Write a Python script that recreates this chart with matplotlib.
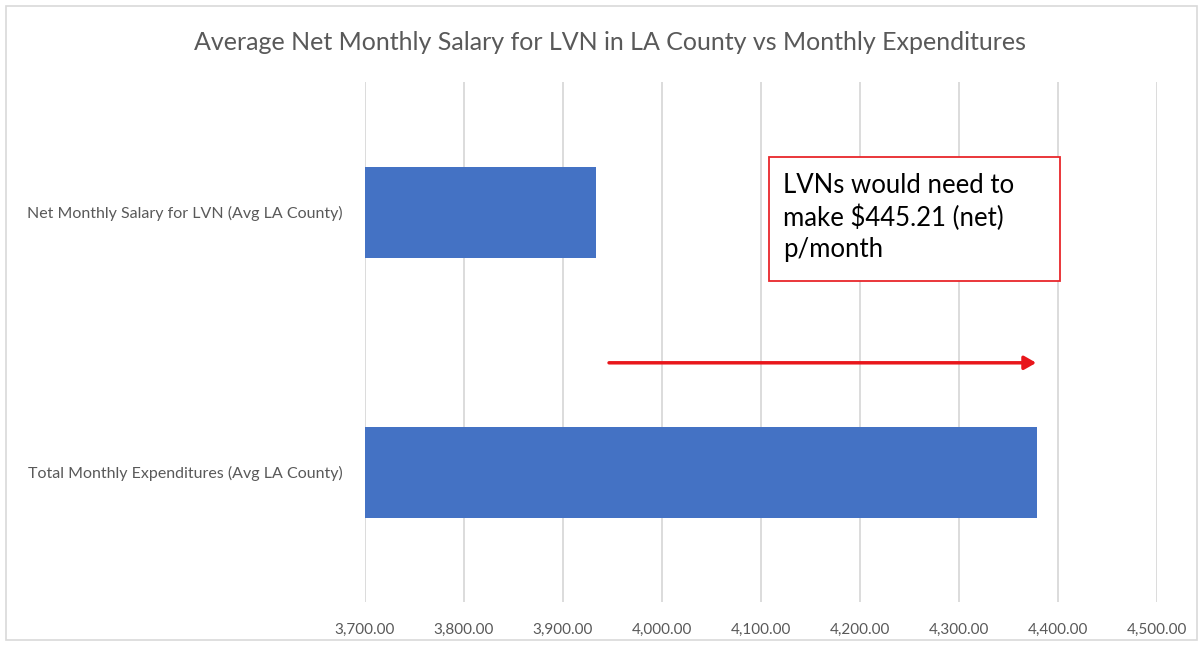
import matplotlib
matplotlib.use("Agg")
import matplotlib.pyplot as plt
from matplotlib.patches import Rectangle, FancyArrowPatch
from matplotlib.ticker import FuncFormatter

# ---- data ----
categories = ["Net Monthly Salary for LVN (Avg LA County)",
              "Total Monthly Expenditures (Avg LA County)"]
values = [3933.50, 4378.71]
x_ticks = [3700, 3800, 3900, 4000, 4100, 4200, 4300, 4400, 4500]
title = "Average Net Monthly Salary for LVN in LA County vs Monthly Expenditures"
note = "LVNs would need to\nmake $445.21 (net)\np/month"

FONT = "Lato"
W, H = 1203, 646
fig = plt.figure(figsize=(W / 100, H / 100), dpi=100)
fig.patch.set_facecolor("white")

# chart frame
fig.patches.append(Rectangle((6 / W, 6 / H), (W - 12) / W, (H - 12) / H,
                             transform=fig.transFigure, fill=False,
                             edgecolor="#d9d9d9", linewidth=1.2))

ax = fig.add_axes([365 / W, 1 - 602 / H, (1157 - 365) / W, (602 - 82) / H])
ypos = list(range(len(categories)))
ax.barh(ypos, [v - x_ticks[0] for v in values], left=x_ticks[0],
        height=0.35, color="#4472C4", zorder=3)
ax.set_xlim(x_ticks[0], x_ticks[-1])
ax.set_ylim(len(categories) - 0.5, -0.5)
ax.set_xticks(x_ticks)
ax.xaxis.set_major_formatter(FuncFormatter(lambda v, p: f"{v:,.2f}"))
ax.set_yticks(ypos)
ax.set_yticklabels(categories)
ax.grid(axis="x", color="#d9d9d9", linewidth=1.3, zorder=0)
for s in ax.spines.values():
    s.set_visible(False)
ax.tick_params(axis="both", length=0, colors="#595959")
ax.tick_params(axis="x", pad=15, labelsize=11)
ax.tick_params(axis="y", pad=16, labelsize=11.5)
for lab in ax.get_xticklabels() + ax.get_yticklabels():
    lab.set_fontfamily(FONT)

fig.text(610 / W, 1 - 43 / H, title, ha="center", va="center",
         fontsize=18, color="#595959", family=FONT)

# annotation box
ax.add_patch(Rectangle((4108, -0.21), 4402 - 4108, 0.475, fill=True,
                       facecolor="white", edgecolor="#e8262b",
                       linewidth=1.3, zorder=4))
ax.text(4122, 0.02, note, ha="left", va="center", fontsize=18.5,
        color="black", family=FONT, linespacing=1.3, zorder=5)

# arrow
ax.add_patch(FancyArrowPatch((3946.5, 0.58), (4378, 0.58),
                             arrowstyle="-|>,head_length=7,head_width=4",
                             color="#e8161b", linewidth=2.5, zorder=5,
                             shrinkA=0, shrinkB=0))

fig.savefig("out.png", dpi=100)
